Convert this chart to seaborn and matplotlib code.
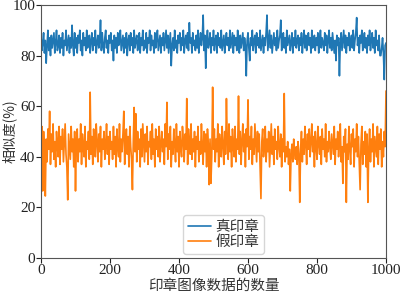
import numpy as np
import pandas as pd
import matplotlib
matplotlib.use("Agg")
import matplotlib.pyplot as plt
import seaborn as sns

# ---- data (one value every 2.5 images) ----
x_step = 2.5
real_seal = [
    88, 82, 85, 89, 81, 86, 77, 84, 90, 82, 87, 80, 88, 83, 86, 89, 81, 85, 90, 82,
    84, 88, 81, 87, 83, 89, 80, 86, 84, 90, 82, 85, 88, 81, 87, 83, 92, 84, 80, 89,
    83, 87, 81, 88, 85, 90, 82, 86, 80, 89, 84, 87, 82, 90, 83, 85, 88, 81, 86, 89,
    82, 87, 84, 90, 81, 85, 88, 83, 86, 94, 82, 89, 84, 81, 87, 90, 83, 86, 81, 88,
    85, 89, 82, 86, 78, 88, 83, 87, 81, 89, 84, 86, 90, 82, 85, 88, 81, 87, 83, 89,
    80, 86, 88, 82, 89, 84, 87, 81, 90, 83, 86, 88, 82, 85, 89, 81, 87, 84, 90, 82,
    86, 83, 89, 81, 87, 85, 90, 82, 88, 84, 86, 81, 89, 83, 87, 90, 82, 85, 88, 81,
    87, 84, 89, 82, 86, 90, 83, 88, 81, 85, 89, 76, 84, 87, 82, 90, 83, 86, 81, 88,
    85, 89, 82, 87, 84, 90, 81, 86, 88, 83, 89, 82, 93, 85, 87, 81, 89, 84, 86, 82,
    88, 83, 90, 81, 86, 89, 84, 87, 96, 82, 88, 75, 86, 90, 83, 85, 89, 81, 87, 84,
    90, 82, 86, 88, 81, 89, 84, 87, 83, 90, 82, 85, 88, 81, 86, 89, 84, 87, 82, 90,
    83, 86, 89, 81, 88, 84, 87, 82, 90, 85, 81, 88, 83, 86, 89, 82, 87, 84, 72, 86,
    89, 83, 78, 87, 84, 90, 82, 86, 88, 81, 89, 84, 87, 83, 90, 82, 85, 88, 81, 87,
    84, 89, 96, 82, 86, 90, 83, 88, 81, 85, 89, 84, 87, 82, 90, 83, 86, 88, 94, 82,
    86, 89, 83, 87, 81, 90, 84, 86, 88, 82, 85, 89, 81, 87, 84, 90, 83, 86, 88, 82,
    87, 84, 89, 81, 86, 90, 83, 88, 82, 85, 89, 84, 87, 81, 90, 83, 86, 88, 82, 87,
    84, 89, 81, 86, 90, 83, 87, 85, 82, 89, 84, 88, 81, 86, 90, 83, 87, 82, 89, 85,
    81, 86, 78, 88, 84, 87, 72, 85, 89, 82, 86, 90, 83, 88, 81, 87, 84, 89, 82, 86,
    88, 83, 90, 82, 86, 89, 95, 84, 87, 81, 88, 85, 90, 82, 86, 89, 83, 87, 81, 88,
    84, 90, 82, 86, 89, 83, 87, 81, 90, 84, 86, 82, 88, 80, 80, 83, 87, 81, 70.5, 84,
    85,
]
fake_seal = [
    44, 52, 26.5, 50, 41, 24.5, 47, 38, 51, 43, 58, 37, 49, 42, 53, 39, 46, 36, 50, 44,
    40, 52, 37, 48, 43, 51, 38, 46, 53, 41, 36, 23, 49, 44, 39, 52, 42, 47, 36, 50,
    26.5, 45, 51, 38, 47, 42, 53, 37, 49, 44, 40, 52, 36, 46, 43, 50, 39, 65.5, 41, 48,
    37, 51, 44, 40, 53, 46, 38, 49, 42, 52, 36, 47, 43, 50, 39, 45, 53, 41, 48, 37,
    50, 43, 46, 39, 52, 41, 48, 36, 51, 44, 40, 53, 38, 47, 42, 49, 58, 37, 45, 51,
    41, 48, 36, 52, 44, 39, 27, 46, 59.5, 42, 57, 38, 50, 43, 47, 36, 51, 40, 53, 45,
    38, 49, 42, 52, 37, 46, 44, 50, 39, 53, 41, 47, 36, 51, 43, 48, 40, 52, 38, 45,
    50, 42, 47, 37, 53, 44, 61.5, 39, 49, 43, 52, 36, 46, 41, 51, 45, 38, 53, 42, 48,
    36, 50, 44, 40, 52, 47, 38, 49, 43, 63, 37, 51, 45, 41, 53, 39, 47, 42, 50, 36,
    48, 43, 52, 38, 46, 41, 53, 44, 37, 50, 42, 49, 36, 51, 45, 29, 47, 29.5, 40, 67.5,
    43, 51, 38, 47, 42, 53, 36, 49, 44, 40, 52, 45, 37, 50, 41, 63, 46, 39, 53, 42,
    48, 36, 51, 44, 40, 52, 38, 47, 43, 64, 41, 50, 37, 46, 53, 42, 49, 36, 51, 44,
    62.5, 39, 48, 43, 52, 37, 47, 41, 53, 45, 38, 50, 42, 49, 36, 23.5, 46, 51, 40, 44,
    52, 38, 47, 42, 50, 36, 45, 53, 41, 48, 37, 51, 43, 46, 39, 52, 44, 40, 49, 36,
    47, 42, 65, 38, 44, 40, 46, 37, 43, 26.5, 41, 45, 38, 47, 42, 39, 44, 37, 46, 41,
    22, 43, 50, 38, 47, 41, 52, 45, 37, 49, 43, 51, 40, 46, 53, 42, 48, 36, 50, 44,
    39, 52, 45, 41, 48, 37, 51, 43, 47, 40, 53, 38, 46, 42, 50, 44, 39, 49, 45, 41,
    52, 37, 47, 43, 50, 40, 46, 53, 38, 44, 29.5, 48, 42, 51, 22, 45, 39, 52, 43, 37,
    49, 44, 51, 36, 47, 42, 53, 40, 48, 38, 27, 45, 52, 37, 46, 41, 50, 36, 49, 22,
    43, 51, 38, 47, 42, 53, 36, 48, 44, 40, 52, 37, 49, 43, 51, 36, 46, 40, 50, 44,
    66,
]
series_names = ["真印章", "假印章"]
x_label = "印章图像数据的数量"
y_label = "相似度(%)"
x_ticks = [0, 200, 400, 600, 800, 1000]
y_ticks = [0, 20, 40, 60, 80, 100]

# ---- build long table ----
n = min(len(real_seal), len(fake_seal))
idx = np.arange(n) * x_step
df = pd.concat([
    pd.DataFrame({"n": idx, "sim": real_seal[:n], "type": series_names[0]}),
    pd.DataFrame({"n": idx, "sim": fake_seal[:n], "type": series_names[1]}),
])

sns.set_style("ticks")
plt.rcParams["font.family"] = ["Liberation Serif", "Noto Sans CJK SC", "DejaVu Sans"]
plt.rcParams["axes.unicode_minus"] = False

fig = plt.figure(figsize=(4.0, 2.92), dpi=100)
ax = fig.add_axes([0.1025, 0.1164, 0.8625, 0.8666])

sns.lineplot(data=df, x="n", y="sim", hue="type", hue_order=series_names,
             palette=["#1f77b4", "#ff7f0e"], linewidth=1.2, ax=ax, legend=False)

ax.set_xlim(0, 1000)
ax.set_ylim(0, 100)
ax.set_xticks(x_ticks)
ax.set_yticks(y_ticks)
ax.tick_params(labelsize=11, length=3.5, width=0.8, direction="out", pad=0.5,
               colors="#222222")
for s in ax.spines.values():
    s.set_color("#555555")
    s.set_linewidth(0.8)

cjk = ["Noto Sans CJK SC", "Liberation Serif"]
ax.set_xlabel(x_label, fontsize=10.5, family=cjk, color="#333333")
ax.set_ylabel(y_label, fontsize=10, family=cjk, color="#333333")
ax.xaxis.set_label_coords(0.5, -0.082)
ax.yaxis.set_label_coords(-0.07, 0.5)

handles = ax.get_lines()[:2]
leg = ax.legend(handles, series_names, loc="lower center",
                bbox_to_anchor=(0.529, 0.0), borderaxespad=0.3,
                handlelength=1.6, handletextpad=0.3, borderpad=0.3,
                labelspacing=0.1, frameon=True,
                prop={"family": ["Noto Sans CJK SC"], "size": 10.5})
leg.get_frame().set_edgecolor("#cccccc")
for t in leg.get_texts():
    t.set_color("#333333")

fig.savefig("out.png", dpi=100)
